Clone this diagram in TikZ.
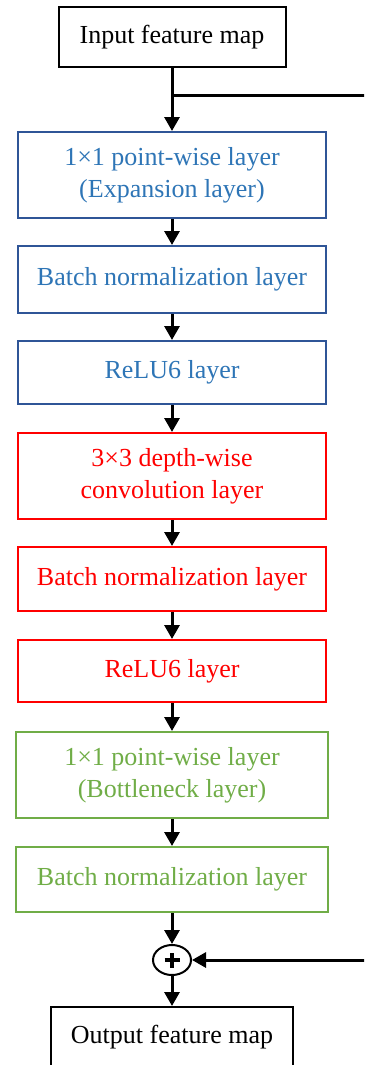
\documentclass[tikz,border=0pt]{standalone}
\usepackage{fontspec}
\setmainfont{Liberation Serif}
\usepackage{tikz}
\usetikzlibrary{arrows.meta,shapes.geometric}

\definecolor{bordblue}{HTML}{2F5597}
\definecolor{txtblue}{HTML}{2E75B6}
\definecolor{dwred}{HTML}{FF0000}
\definecolor{bngreen}{HTML}{70AD47}

\tikzset{
	layer/.style={draw, line width=2pt, align=center, inner sep=0pt,
		font=\fontsize{26}{32}\selectfont, minimum width=308pt},
	mapbox/.style={layer, draw=black, text=black},
	expblock/.style={layer, draw=bordblue, text=txtblue},
	dwblock/.style={layer, draw=dwred, text=dwred},
	bnblock/.style={layer, draw=bngreen, text=bngreen, minimum width=312pt},
	flow/.style={line width=3pt, -{Triangle[length=14pt,width=15pt]}},
	skipline/.style={line width=3pt}
}

\begin{document}
\begin{tikzpicture}[x=1pt,y=-1pt]
		\useasboundingbox (0,0) rectangle (364,1065);
		\clip (0,0) rectangle (364,1065);

		\node[mapbox, minimum width=227pt, minimum height=60pt] (inmap) at (172,37) {Input feature map};

		\node[expblock, minimum height=86pt] (pw1) at (172,175) {1×1 point-wise layer\\(Expansion layer)};
		\node[expblock, minimum height=67pt] (bn1) at (172,279.5) {Batch normalization layer};
		\node[expblock, minimum height=63pt] (relu1) at (172,372.5) {ReLU6 layer};

		\node[dwblock, minimum height=86pt] (dw) at (172,476) {3×3 depth-wise\\convolution layer};
		\node[dwblock, minimum height=64pt] (bn2) at (172,579) {Batch normalization layer};
		\node[dwblock, minimum height=62pt] (relu2) at (172,671) {ReLU6 layer};

		\node[bnblock, minimum height=86pt] (pw2) at (172,775) {1×1 point-wise layer\\(Bottleneck layer)};
		\node[bnblock, minimum height=65pt] (bn3) at (172,879.5) {Batch normalization layer};

		\node[draw, ellipse, line width=2pt, minimum width=38pt, minimum height=30pt, inner sep=0pt,
			path picture={\draw[line width=4.5pt]
				([xshift=-7.5pt]path picture bounding box.center) -- ([xshift=7.5pt]path picture bounding box.center)
				([yshift=-7.5pt]path picture bounding box.center) -- ([yshift=7.5pt]path picture bounding box.center);}]
			(add) at (172,960) {};

		\node[mapbox, minimum width=242pt, minimum height=60pt] (outmap) at (172,1037) {Output feature map};

		% shortcut around the block
		\coordinate (tap) at (172,95);
		\coordinate (skipT) at (370,95);
		\coordinate (skipB) at (370,960);

		\draw [flow] (inmap) -- (pw1);
		\draw [flow] (pw1) -- (bn1);
		\draw [flow] (bn1) -- (relu1);
		\draw [flow] (relu1) -- (dw);
		\draw [flow] (dw) -- (bn2);
		\draw [flow] (bn2) -- (relu2);
		\draw [flow] (relu2) -- (pw2);
		\draw [flow] (pw2) -- (bn3);
		\draw [flow] (bn3) -- (add);
		\draw [flow] (add) -- (outmap);

		\draw [skipline] (tap) -- (skipT) -- (skipB);
		\draw [flow] (skipB) -- (add);
	\end{tikzpicture}
\end{document}
